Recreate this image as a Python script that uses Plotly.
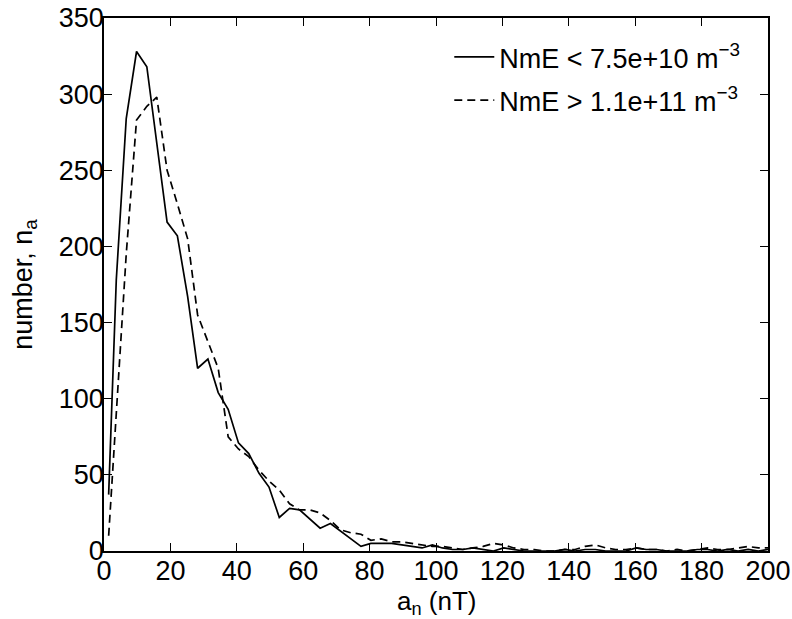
import plotly.graph_objects as go

# bin centres (nT)
a_n = [1.4, 3.7, 6.7, 9.8, 12.9, 15.9, 19.0, 22.1, 25.2, 28.2, 31.3, 34.4, 37.4, 40.5, 43.6,
       46.7, 49.7, 52.8, 55.9, 58.9, 62.0, 65.1, 68.2, 71.2, 74.3, 77.4, 80.4, 83.5, 86.6,
       89.7, 92.7, 95.8, 98.9, 101.9, 105.0, 108.1, 111.1, 114.2, 117.3, 120.4, 123.4,
       126.5, 129.6, 132.6, 135.7, 138.8, 141.9, 144.9, 148.0, 151.1, 154.1, 157.2, 160.3,
       163.3, 166.4, 169.5, 172.6, 175.6, 178.7, 181.8, 184.8, 187.9, 191.0, 194.0, 197.1,
       200.0]

# NmE < 7.5e+10 m^-3
n_low = [37, 178, 284, 328, 318, 267, 216, 207, 167, 120, 126, 104, 93, 71, 64,
         51, 42, 22, 28, 27, 21, 15, 18, 13, 8, 3, 5, 5, 5,
         4, 3, 2, 4, 2, 1, 1, 2, 1, 0, 2, 1,
         0, 0, 0, 0, 1, 0, 1, 1, 0, 0, 0, 2,
         1, 1, 0, 0, 0, 1, 1, 0, 1, 0, 1, 0,
         1]

# NmE > 1.1e+11 m^-3
n_high = [10, 92, 195, 283, 292, 298, 250, 228, 205, 155, 138, 120, 75, 67, 62,
          53, 46, 40, 31, 27, 27, 25, 20, 14, 12, 11, 7, 8, 6,
          6, 5, 4, 3, 3, 2, 1, 2, 3, 5, 4, 2,
          1, 1, 0, 0, 1, 1, 3, 4, 2, 1, 1, 2,
          1, 1, 0, 1, 0, 1, 2, 1, 1, 2, 3, 2,
          2]

labels = ["NmE < 7.5e+10 m<sup>\u22123</sup>", "NmE > 1.1e+11 m<sup>\u22123</sup>"]
x_title = "a<sub>n</sub> (nT)"
y_title = "number, n<sub>a</sub>"

FONT = "Liberation Sans, Arial, sans-serif"
FS = 27

fig = go.Figure()
fig.add_trace(go.Scatter(x=a_n, y=n_low, mode="lines", name=labels[0], legendgroup="a",
                         line=dict(color="black", width=1.7)))
fig.add_trace(go.Scatter(x=a_n, y=n_high, mode="lines", name=labels[1], legendgroup="b",
                         line=dict(color="black", width=1.7, dash="8px,5px")))

axis_common = dict(showgrid=False, zeroline=False, showline=True, linecolor="black",
                   linewidth=1.6, mirror="allticks", ticks="inside", ticklen=8,
                   tickcolor="black", tickwidth=1.2, automargin=False,
                   tickfont=dict(family=FONT, size=FS, color="black"))

fig.update_layout(
    width=792, height=619,
    margin=dict(l=104, r=24, t=18, b=68),
    paper_bgcolor="white", plot_bgcolor="white",
    font=dict(family=FONT, size=FS, color="black"),
    xaxis=dict(range=[0, 200], tickvals=list(range(0, 201, 20)), ticklabelstandoff=-5,
               **axis_common),
    yaxis=dict(range=[0, 350], tickvals=list(range(0, 351, 50)), ticklabelstandoff=-7,
               **axis_common),
    legend=dict(x=0.52, y=0.972, xanchor="left", yanchor="top",
                bgcolor="rgba(0,0,0,0)", borderwidth=0,
                font=dict(family=FONT, size=FS, color="black"),
                itemwidth=40, tracegroupgap=5),
    showlegend=True,
    annotations=[
        dict(text=x_title, xref="paper", yref="paper", x=0.5, y=-0.062,
             xanchor="center", yanchor="top", showarrow=False,
             font=dict(family=FONT, size=26, color="black")),
        dict(text=y_title, xref="paper", yref="paper", x=-0.12, y=0.5,
             xanchor="center", yanchor="middle", textangle=-90, showarrow=False,
             font=dict(family=FONT, size=FS, color="black")),
    ],
)

fig.write_html("out.html", config={"displayModeBar": False},
               post_script="document.body.style.margin='0';")
